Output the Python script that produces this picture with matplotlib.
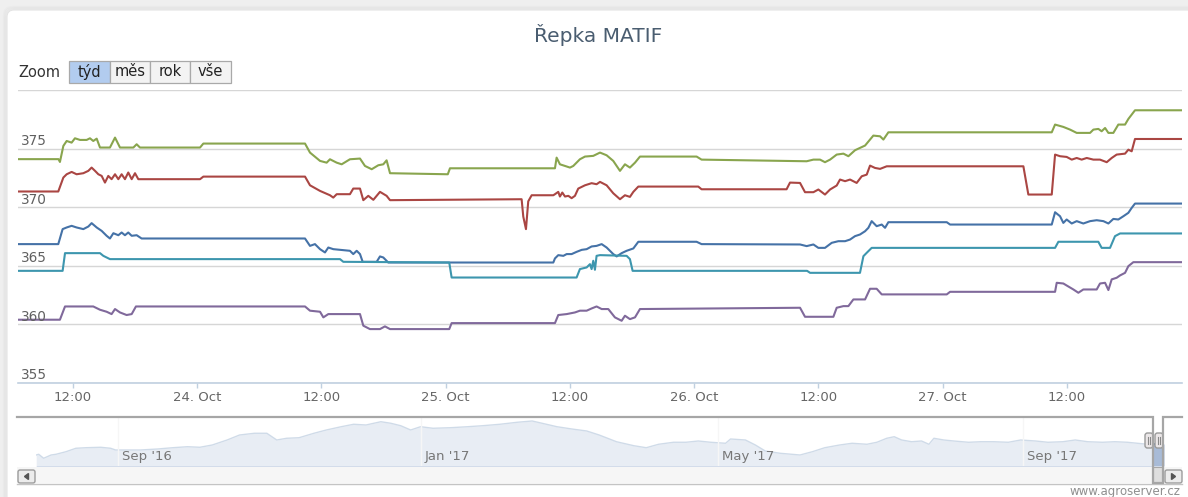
import matplotlib.pyplot as plt
import numpy as np
import pandas as pd
from matplotlib.patches import FancyBboxPatch, Rectangle

W, H = 1188, 497
BASE = pd.Timestamp("2017-10-23")

# hours since 23 Oct 00:00 and prices (EUR/t)
green_t = [6.7, 10.6, 10.74, 11.07, 11.39, 11.87, 12.19, 12.68, 13.32, 13.64, 13.96, 14.29, 14.61, 15.57, 16.06,
           16.54, 17.83, 18.15, 18.47, 24.27, 24.59, 34.41, 34.89, 35.86, 36.5, 36.82, 37.47, 37.95, 38.75, 39.72,
           40.2, 40.85, 41.49, 41.97, 42.29, 42.62, 48.2, 48.41, 58.55, 58.71, 59.03, 59.52, 60.0, 60.32, 60.96,
           61.45, 62.25, 62.9, 63.54, 64.18, 64.83, 65.31, 65.79, 66.28, 66.76, 72.23, 72.71, 82.86, 83.51, 84.15,
           84.63, 85.12, 85.76, 86.41, 86.89, 87.53, 88.01, 88.5, 88.98, 89.3, 89.95, 90.27, 90.75, 106.53, 106.85,
           107.65, 108.3, 108.94, 110.23, 110.55, 111.03, 111.35, 111.68, 112.0, 112.48, 112.96, 113.61, 113.93,
           114.25, 114.57, 119.1]
green_v = [374.1, 374.1, 373.86, 375.23, 375.65, 375.51, 375.88, 375.74, 375.74, 375.88, 375.65, 375.85, 375.09,
           375.09, 375.94, 375.09, 375.09, 375.37, 375.09, 375.09, 375.43, 375.43, 374.66, 373.95, 373.8, 374.09,
           373.8, 373.66, 374.09, 374.15, 373.52, 373.24, 373.58, 373.66, 374.0, 372.9, 372.81, 373.32, 373.32,
           374.23, 373.66, 373.52, 373.38, 373.52, 374.09, 374.32, 374.38, 374.66, 374.43, 373.95, 373.1, 373.66,
           373.38, 373.8, 374.32, 374.32, 374.06, 373.92, 374.06, 374.06, 373.84, 374.06, 374.49, 374.57, 374.35,
           374.86, 375.06, 375.26, 375.77, 376.11, 376.05, 375.77, 376.39, 376.39, 377.05, 376.85, 376.62, 376.34,
           376.34, 376.62, 376.68, 376.48, 376.76, 376.34, 376.34, 377.05, 377.05, 377.53, 377.9, 378.27, 378.27]

red_t = [6.7, 10.58, 11.07, 11.39, 11.87, 12.35, 13.0, 13.48, 13.8, 14.13, 14.45, 14.77, 15.09, 15.41, 15.73, 16.06,
         16.38, 16.7, 17.02, 17.34, 17.67, 17.99, 18.31, 24.27, 24.59, 34.41, 34.89, 35.86, 36.82, 37.14, 37.47,
         38.75, 39.07, 39.72, 40.04, 40.52, 41.01, 41.65, 42.29, 42.62, 55.33, 55.49, 55.75, 55.97, 56.3, 58.39,
         58.55, 58.87, 59.03, 59.26, 59.52, 59.84, 60.16, 60.48, 60.8, 61.45, 62.09, 62.57, 62.9, 63.54, 64.18,
         64.83, 65.31, 65.79, 66.12, 66.6, 72.39, 72.71, 80.92, 81.25, 82.22, 82.7, 83.51, 83.99, 84.63, 85.12,
         85.76, 86.08, 86.57, 87.05, 87.69, 88.18, 88.66, 88.98, 89.46, 89.95, 90.59, 103.79, 104.27, 106.53,
         106.85, 107.33, 107.97, 108.46, 108.94, 109.42, 109.91, 110.55, 111.19, 111.84, 112.32, 112.8, 113.61,
         113.93, 114.25, 114.57, 119.1]
red_v = [371.34, 371.34, 372.53, 372.81, 373.01, 372.81, 372.9, 373.1, 373.38, 373.1, 372.81, 372.67, 372.1, 372.67,
         372.39, 372.81, 372.39, 372.81, 372.39, 372.96, 372.39, 372.9, 372.39, 372.39, 372.61, 372.61, 371.87,
         371.39, 371.02, 370.82, 371.11, 371.11, 371.59, 371.59, 370.6, 370.97, 370.63, 371.31, 370.97, 370.6,
         370.68, 369.2, 368.13, 370.5, 371.02, 371.02, 371.11, 371.31, 370.91, 371.25, 370.91, 370.97, 370.77,
         370.97, 371.59, 371.87, 372.05, 371.96, 372.16, 371.87, 371.19, 370.68, 371.02, 370.88, 371.31, 371.76,
         371.76, 371.53, 371.53, 372.1, 372.07, 371.28, 371.28, 371.51, 371.08, 371.51, 371.85, 372.36, 372.22,
         372.36, 372.07, 372.64, 372.78, 373.55, 373.35, 373.27, 373.49, 373.49, 371.08, 371.08, 374.49, 374.35,
         374.29, 374.06, 374.2, 374.06, 374.2, 374.06, 374.06, 373.84, 374.2, 374.49, 374.57, 374.91, 374.77,
         375.82, 375.82]

blue_t = [6.7, 10.58, 11.0, 11.39, 11.87, 12.35, 13.0, 13.48, 13.8, 14.29, 14.77, 15.25, 15.57, 15.9, 16.38, 16.7,
          17.02, 17.34, 17.67, 18.15, 18.63, 34.41, 34.89, 35.37, 35.86, 36.34, 36.66, 37.14, 38.75, 39.07, 39.4,
          39.72, 39.98, 41.33, 41.65, 41.97, 42.45, 58.39, 58.55, 58.87, 59.36, 59.68, 60.16, 60.64, 61.13, 61.61,
          62.09, 62.57, 63.06, 63.54, 64.18, 64.51, 64.99, 65.47, 66.12, 66.6, 72.23, 72.71, 82.22, 82.86, 83.51,
          83.99, 84.63, 85.28, 85.92, 86.57, 87.05, 87.53, 88.01, 88.5, 88.82, 89.14, 89.62, 90.11, 90.43, 90.75,
          96.39, 96.71, 106.53, 106.85, 107.33, 107.65, 107.97, 108.46, 108.94, 109.58, 110.23, 110.87, 111.52,
          112.0, 112.48, 112.96, 113.45, 113.93, 114.25, 114.57, 119.1]
blue_v = [366.85, 366.85, 368.13, 368.27, 368.41, 368.27, 368.13, 368.35, 368.64, 368.27, 367.98, 367.56, 367.33,
          367.78, 367.61, 367.84, 367.61, 367.84, 367.56, 367.61, 367.33, 367.33, 366.7, 366.85, 366.42, 366.14,
          366.56, 366.42, 366.28, 366.0, 366.28, 366.0, 365.34, 365.34, 365.8, 365.71, 365.28, 365.28, 365.63,
          365.91, 365.85, 366.0, 366.0, 366.19, 366.36, 366.42, 366.65, 366.7, 366.85, 366.56, 366.0, 365.8,
          366.08, 366.28, 366.48, 367.05, 367.05, 366.85, 366.82, 366.68, 366.82, 366.53, 366.53, 366.96, 367.1,
          367.1, 367.24, 367.53, 367.67, 367.95, 368.24, 368.81, 368.38, 368.52, 368.24, 368.72, 368.72, 368.52,
          368.52, 369.57, 369.23, 368.66, 368.95, 368.61, 368.81, 368.61, 368.81, 368.89, 368.81, 368.61, 369.0,
          368.95, 369.23, 369.52, 369.94, 370.31, 370.31]

teal_t = [6.7, 11.0, 11.23, 14.61, 14.93, 15.57, 37.79, 38.11, 48.34, 48.57, 60.64, 60.96, 61.61, 61.93, 62.09,
          62.25, 62.41, 62.57, 62.9, 65.47, 65.79, 66.05, 82.9, 83.19, 88.01, 88.34, 88.66, 89.14, 106.85, 107.17,
          111.03, 111.35, 112.16, 112.64, 113.13, 119.1]
teal_v = [364.57, 364.57, 366.08, 366.08, 365.85, 365.57, 365.57, 365.34, 365.28, 364.0, 364.0, 364.72, 364.86,
          365.14, 364.72, 365.43, 364.66, 365.85, 365.91, 365.85, 365.57, 364.57, 364.57, 364.4, 364.4, 365.82,
          366.11, 366.53, 366.53, 367.05, 367.05, 366.53, 366.53, 367.53, 367.76, 367.76]

purple_t = [6.7, 10.74, 11.23, 13.96, 14.61, 15.25, 15.73, 16.06, 16.54, 17.18, 17.67, 18.08, 34.41, 34.89, 35.86,
            36.18, 36.66, 39.72, 40.04, 40.68, 41.65, 42.13, 42.62, 48.34, 48.57, 58.55, 58.87, 59.68, 60.48, 60.96,
            61.61, 62.09, 62.57, 63.06, 63.7, 64.34, 64.99, 65.31, 65.79, 66.28, 66.76, 82.22, 82.7, 85.44, 85.76,
            86.41, 86.89, 87.37, 88.5, 88.98, 89.62, 90.11, 96.39, 96.71, 106.85, 107.01, 107.65, 107.97, 108.62,
            109.1, 109.58, 110.87, 111.19, 111.68, 112.0, 112.32, 112.8, 113.13, 113.61, 113.93, 114.41, 119.1]
purple_v = [360.4, 360.4, 361.53, 361.53, 361.25, 361.08, 360.88, 361.31, 361.02, 360.8, 360.88, 361.53, 361.53,
            361.17, 361.08, 360.6, 360.88, 360.88, 359.89, 359.6, 359.6, 359.83, 359.6, 359.6, 360.11, 360.11,
            360.8, 360.88, 361.02, 361.17, 361.17, 361.36, 361.53, 361.31, 361.31, 360.6, 360.31, 360.74, 360.45,
            360.6, 361.31, 361.42, 360.65, 360.65, 361.42, 361.56, 361.56, 362.13, 362.13, 363.04, 363.04, 362.56,
            362.56, 362.78, 362.78, 363.55, 363.49, 363.32, 362.98, 362.7, 362.98, 362.98, 363.49, 363.55, 362.93,
            363.84, 363.98, 364.18, 364.4, 364.97, 365.31, 365.31]

# navigator: whole history of the front contract
nav_dates = ["2016-07-30", "2016-07-31", "2016-08-02", "2016-08-05", "2016-08-07", "2016-08-11", "2016-08-15",
             "2016-08-19", "2016-08-25", "2016-08-29", "2016-08-31", "2016-09-04", "2016-09-10", "2016-09-17",
             "2016-09-23", "2016-09-29", "2016-10-04", "2016-10-09", "2016-10-15", "2016-10-20", "2016-10-26",
             "2016-10-31", "2016-11-04", "2016-11-08", "2016-11-13", "2016-11-19", "2016-11-24", "2016-11-30",
             "2016-12-05", "2016-12-10", "2016-12-16", "2016-12-20", "2016-12-24", "2016-12-28", "2017-01-01",
             "2017-01-06", "2017-01-13", "2017-01-20", "2017-01-26", "2017-02-02", "2017-02-09", "2017-02-15",
             "2017-02-19", "2017-02-25", "2017-03-03", "2017-03-09", "2017-03-14", "2017-03-21", "2017-03-28",
             "2017-04-02", "2017-04-07", "2017-04-13", "2017-04-18", "2017-04-23", "2017-04-28", "2017-05-04",
             "2017-05-06", "2017-05-12", "2017-05-16", "2017-05-20", "2017-05-26", "2017-06-03", "2017-06-08",
             "2017-06-13", "2017-06-19", "2017-06-24", "2017-06-30", "2017-07-04", "2017-07-08", "2017-07-11",
             "2017-07-14", "2017-07-18", "2017-07-22", "2017-07-25", "2017-07-27", "2017-07-31", "2017-08-04",
             "2017-08-10", "2017-08-15", "2017-08-20", "2017-08-26", "2017-08-31", "2017-09-06", "2017-09-11",
             "2017-09-17", "2017-09-22", "2017-09-27", "2017-10-03", "2017-10-08", "2017-10-13", "2017-10-20",
             "2017-10-27 19:00"]
nav_price = [350.2, 351.5, 344.3, 350.2, 351.5, 356.1, 362.3, 363.3, 364.1, 362.3,
             359.2, 359.2, 359.2, 361.0, 363.3, 365.1, 364.1, 368.2, 377.2, 386.2,
             389.3, 389.3, 377.2, 380.3, 381.3, 389.3, 395.2, 401.1, 405.5, 404.2,
             410.1, 407.3, 402.9, 395.2, 401.1, 398.3, 399.3, 401.1, 402.9, 405.5,
             409.1, 411.4, 407.3, 401.1, 397.0, 393.4, 386.2, 374.1, 366.9, 363.3,
             369.5, 373.1, 373.1, 375.4, 373.1, 371.3, 379.0, 377.2, 368.2, 357.4,
             353.3, 350.2, 356.1, 363.3, 368.2, 371.3, 369.5, 373.1, 380.3, 383.1,
             377.2, 374.1, 375.4, 369.5, 380.3, 377.2, 375.4, 373.1, 374.1, 374.1,
             373.1, 377.2, 375.4, 373.1, 374.1, 377.2, 374.1, 373.1, 374.1, 373.1,
             370.0, 370.0]

y_ticks = [355, 360, 365, 370, 375, 380]
y_labels = [355, 360, 365, 370, 375]
nav_ticks = ["2016-09-01", "2017-01-01", "2017-05-01", "2017-09-01"]
nav_tick_labels = ["Sep '16", "Jan '17", "May '17", "Sep '17"]
buttons = ["týd", "měs", "rok", "vše"]

series = [
    (green_t, green_v, "#89A54E"),
    (red_t, red_v, "#AA4643"),
    (blue_t, blue_v, "#4572A7"),
    (teal_t, teal_v, "#3D96AE"),
    (purple_t, purple_v, "#80699B"),
]


def px_axes(fig, left, top, right, bottom, **kw):
    return fig.add_axes([left / W, 1 - bottom / H, (right - left) / W, (bottom - top) / H], **kw)


def hours(t):
    return BASE + pd.to_timedelta(np.asarray(t), unit="h")


fig = plt.figure(figsize=(W / 100, H / 100), dpi=100, facecolor="#efefef")

# page background / white card
bg = fig.add_axes([0, 0, 1, 1], zorder=0)
bg.set_xlim(0, W)
bg.set_ylim(H, 0)
bg.axis("off")
for i, a in enumerate([0.05, 0.05, 0.06]):
    bg.add_patch(FancyBboxPatch((6 - i, 9 - i), 1200, 520, boxstyle="round,pad=0,rounding_size=8",
                                fc="none", ec="#b0b0b0", lw=1.5, alpha=a))
bg.add_patch(FancyBboxPatch((7, 10), 1200, 520, boxstyle="round,pad=0,rounding_size=7", fc="white", ec="#e4e4e4", lw=0.8))

fig.text(598 / W, 1 - 35 / H, "Řepka MATIF", ha="center", va="center", fontsize=14.5, color="#4a5d70")

# main chart
ax = px_axes(fig, 18, 90, 1182, 383, zorder=2)
ax.set_facecolor("none")
for t, v, c in series:
    ax.plot(hours(t), v, color=c, lw=1.5, solid_joinstyle="round")
ax.set_xlim(BASE + pd.Timedelta(hours=6.69), BASE + pd.Timedelta(hours=119.11))
ax.set_ylim(355, 380)
ax.set_yticks(y_ticks)
ax.tick_params(axis="y", length=0, labelleft=False)
ax.grid(axis="y", color="#d6d6d6", lw=1)
ax.set_axisbelow(True)
for s in ["top", "left", "right"]:
    ax.spines[s].set_visible(False)
ax.spines["bottom"].set_color("#C0D0E0")
ax.spines["bottom"].set_linewidth(1.2)
xt = pd.date_range("2017-10-23 12:00", "2017-10-27 12:00", freq="12h")
ax.set_xticks(xt)
ax.set_xticklabels(["12:00" if d.hour == 12 else f"{d.day}. Oct" for d in xt])
ax.tick_params(axis="x", length=3.6, width=1, color="#C0D0E0", pad=2.5, labelsize=9.5, labelcolor="#666666")
for v in y_labels:
    ax.annotate(str(v), xy=(0, v), xycoords=("axes fraction", "data"), xytext=(2.2, 5.5),
                textcoords="offset points", ha="left", va="center", fontsize=9.8, color="#606060")

# navigator
nav_start = pd.Timestamp("2016-07-29 22:00")
nav_end = pd.Timestamp("2017-10-27 19:00")
nav = px_axes(fig, 36, 417, 1164, 466, zorder=2)
nav.set_facecolor("none")
nav_x = pd.to_datetime(nav_dates, format="ISO8601")
for d in pd.to_datetime(nav_ticks):
    nav.axvline(d, color="#dcdcdc", lw=1, zorder=2)
nav.fill_between(nav_x, nav_price, 330.4, color="#a8bbd7", lw=0, zorder=1)
nav.plot(nav_x, nav_price, color="#4572A7", lw=1, zorder=1.5)
nav.set_xlim(nav_start, nav_end)
nav.set_ylim(330.4, 418.6)
sel0 = BASE + pd.Timedelta(hours=6.69)
sel1 = BASE + pd.Timedelta(hours=119.11)
nav.axvspan(nav_start, sel0, color="white", alpha=0.75, lw=0, zorder=3)
nav.axvspan(sel1, nav_end, color="white", alpha=0.75, lw=0, zorder=3)
for d, lab in zip(pd.to_datetime(nav_ticks), nav_tick_labels):
    nav.annotate(lab, xy=(d, 0.2), xycoords=("data", "axes fraction"), xytext=(3, 0),
                 textcoords="offset points", ha="left", va="center", fontsize=9.5, color="#777777", zorder=4)
nav.axis("off")

# buttons, scrollbar, handles
fg = fig.add_axes([0, 0, 1, 1], zorder=5)
fg.set_facecolor("none")
fg.set_xlim(0, W)
fg.set_ylim(H, 0)
fg.axis("off")

fg.text(18, 72.5, "Zoom", ha="left", va="center", fontsize=10.5, color="#333333")
edges = [69, 110, 150, 190, 231]
for i, lab in enumerate(buttons):
    sel = i == 0
    fg.add_patch(Rectangle((edges[i], 61), edges[i + 1] - edges[i], 22, fc="#b2ccef" if sel else "#f3f3f3",
                           ec="#a9a9a9", lw=0.9))
    fg.text((edges[i] + edges[i + 1]) / 2, 72, lab, ha="center", va="center", fontsize=10.5, color="#222222")

fg.add_patch(Rectangle((17, 467), 1165, 16, fc="#f6f6f6", ec="none"))
fg.plot([17, 1182], [483.5, 483.5], color="#c4c4c4", lw=1)
for x0, d in [(18, -1), (1165, 1)]:
    fg.add_patch(FancyBboxPatch((x0, 470), 17, 13, boxstyle="round,pad=0,rounding_size=2",
                                fc="#ececec", ec="#9c9c9c", lw=1))
    cx = x0 + 8.5
    fg.fill([cx + 2 * d, cx - 2 * d, cx - 2 * d], [476.5, 473.5, 479.5], color="#555555")
fg.add_patch(Rectangle((1153, 467), 10, 16, fc="#dedede", ec="#a8a8a8", lw=0.8))
fg.plot([17, 1152.5, 1152.5, 1162.5, 1162.5, 1182], [417, 417, 483, 483, 417, 417],
        color="#a6a6a6", lw=1.6, solid_joinstyle="miter")
for x0 in [1145, 1155]:
    fg.add_patch(FancyBboxPatch((x0, 433), 8, 15, boxstyle="round,pad=0,rounding_size=2.5",
                                fc="#ebe7e8", ec="#9a9a9a", lw=1))
    for dx in [3, 5]:
        fg.plot([x0 + dx, x0 + dx], [437, 444], color="#8a8a8a", lw=0.8)

fig.text(1181 / W, 1 - 491 / H, "www.agroserver.cz", ha="right", va="center", fontsize=8.5, color="#8f8f8f")

fig.savefig("out.png", dpi=100, facecolor=fig.get_facecolor())
